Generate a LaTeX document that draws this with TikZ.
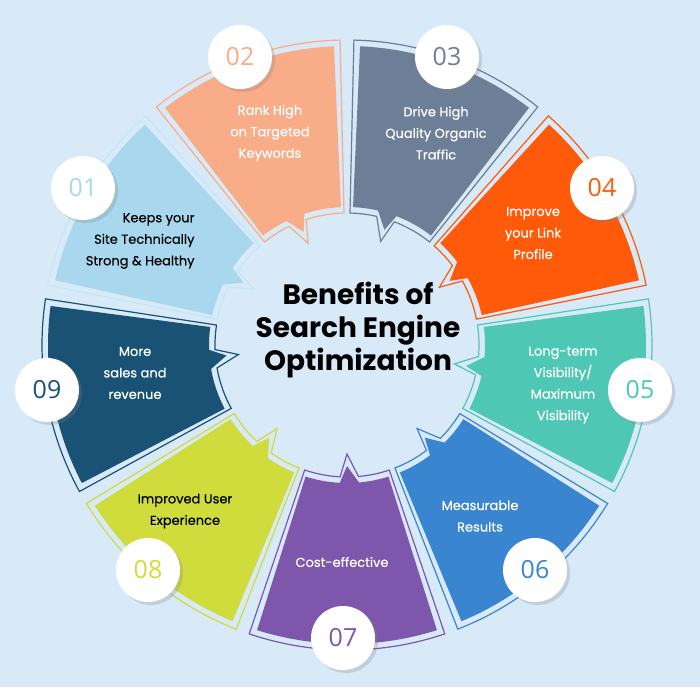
\documentclass[tikz,border=0pt]{standalone}
\usepackage{fontspec}
\setmainfont{Poppins}
\newfontfamily\med[FakeBold=0.5]{Poppins}
\newfontfamily\numfont{Open Sans}
\usetikzlibrary{shadows}
\definecolor{bg}{HTML}{D8E9F8}
\definecolor{cA}{HTML}{A9D8EE}
\definecolor{cAo}{HTML}{C4E6F6}
\definecolor{cB}{HTML}{F9AC88}
\definecolor{cC}{HTML}{6C7F96}
\definecolor{cD}{HTML}{FF5A0A}
\definecolor{cE}{HTML}{4FC7B5}
\definecolor{cF}{HTML}{3A85D0}
\definecolor{cG}{HTML}{7E57AD}
\definecolor{cH}{HTML}{CFDC3C}
\definecolor{cI}{HTML}{1A5276}
\newcommand\segpath[6]{% start end notch Ri Ro depth
  (#1:#4) -- (#1:#5) arc[start angle=#1,end angle=#2,radius=#5] -- (#2:#4)
  arc[start angle=#2,end angle=#3+4,radius=#4] -- (#3-1:#4-#6) -- (#3-4:#4)
  arc[start angle=#3-4,end angle=#1,radius=#4] -- cycle}
\newcommand\seg[5]{% start end notch fill outline
  \draw[#5,line width=1.2pt] \segpath{#1-1.2}{#2+1.2}{#3}{132}{305}{23};
  \fill[#4] \segpath{#1}{#2}{#3}{138}{299}{17};}
\tikzset{
  lbl/.style={font=\med\fontsize{13}{21.5}\selectfont,align=center,text=white},
  num/.style={circle,fill=white,minimum size=64pt,inner sep=0pt,
    drop shadow={shadow xshift=3pt,shadow yshift=-3pt,opacity=.25},
    font=\numfont\fontsize{25}{25}\selectfont},
  title/.style={font=\bfseries\fontsize{28}{33}\selectfont,align=center}
}
\begin{document}
\begin{tikzpicture}[x=1pt,y=1pt]
\fill[bg] (0,0) rectangle (700,-687);
\useasboundingbox (0,0) rectangle (700,-687);
\begin{scope}[shift={(347,-345)}]
\seg{132.5}{167.5}{150}{cA}{cAo}
\seg{92.5}{127.5}{112}{cB}{cB}
\seg{52.5}{87.5}{73}{cC}{cC}
\seg{12.5}{47.5}{33}{cD}{cD}
\seg{-27.5}{7.5}{-9}{cE}{cE}
\seg{-67.5}{-32.5}{-49}{cF}{cF}
\seg{-107.5}{-72.5}{-89}{cG}{cG}
\seg{-147.5}{-112.5}{-129}{cH}{cH}
\seg{172.5}{207.5}{186}{cI}{cI}
\end{scope}
\node[title] (t) at (358,-330) {Benefits of\\Search Engine\\Optimization};
\node[lbl,text=black,align=right,anchor=east] (l1) at (198,-241) {Keeps your\\Site Technically\\Strong \& Healthy};
\node[lbl] (l2) at (270,-133) {Rank High\\on Targeted\\Keywords};
\node[lbl] (l3) at (436,-133) {Drive High\\Quality Organic\\Traffic};
\node[lbl] (l4) at (533,-233) {Improve\\your Link\\Profile};
\node[lbl] (l5) at (563,-385) {Long-term\\Visibility/\\Maximum\\Visibility};
\node[lbl] (l6) at (480,-516) {Measurable\\Results};
\node[lbl] (l7) at (342,-562) {Cost-effective};
\node[lbl,text=black] (l8) at (185,-511) {Improved User\\Experience};
\node[lbl] (l9) at (135,-373) {More\\sales and\\revenue};
\node[num,text=cA] (n1) at (83,-188) {01};
\node[num,text=cB] (n2) at (240,-57) {02};
\node[num,text=cC] (n3) at (447,-57) {03};
\node[num,text=cD] (n4) at (602,-188) {04};
\node[num,text=cE] (n5) at (640,-390) {05};
\node[num,text=cF] (n6) at (535,-570) {06};
\node[num,text=cG] (n7) at (343,-638) {07};
\node[num,text=cH] (n8) at (148,-570) {08};
\node[num,text=cI] (n9) at (47,-390) {09};
\end{tikzpicture}
\end{document}
